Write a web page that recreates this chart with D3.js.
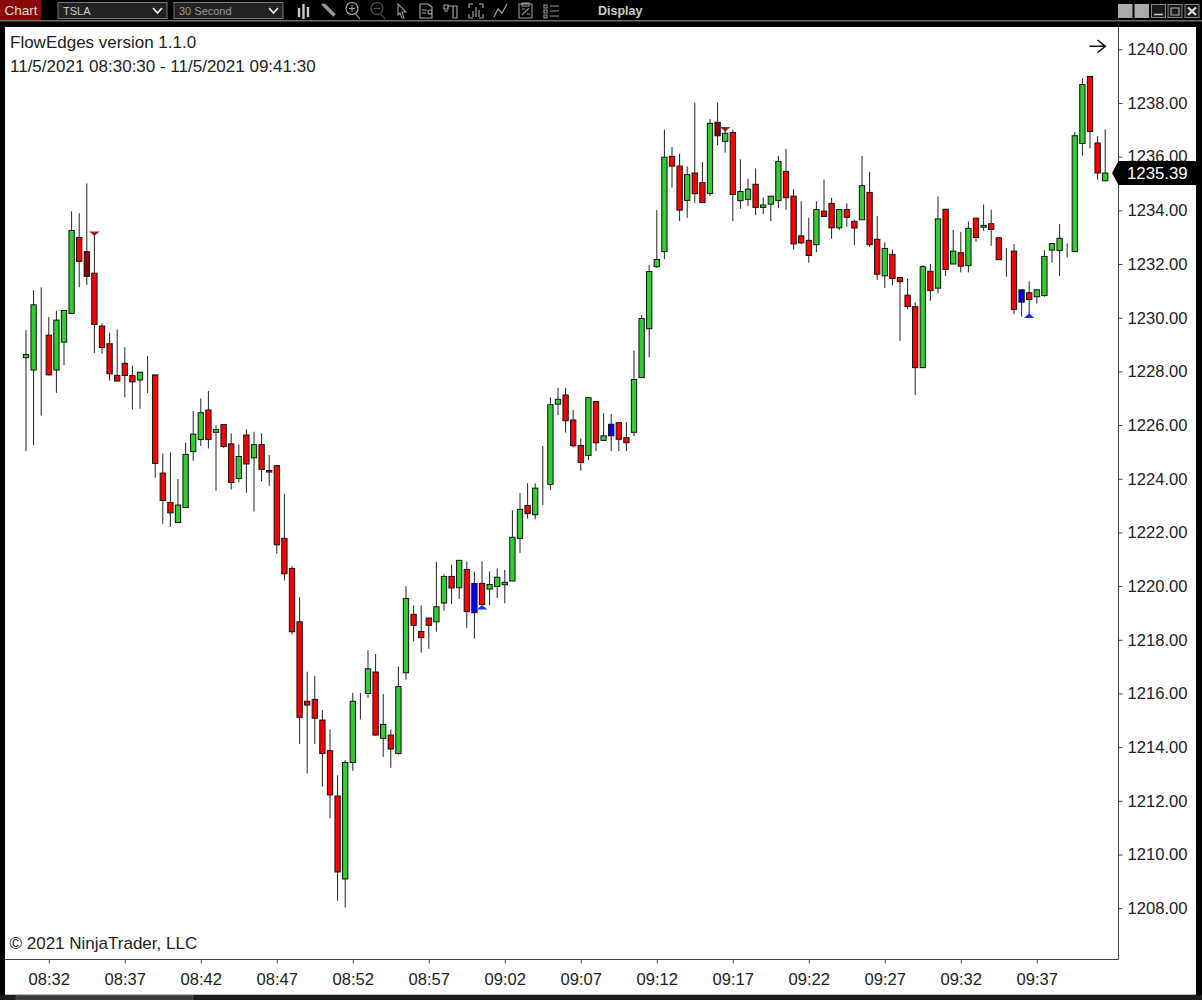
<!DOCTYPE html>
<html>
<head>
<meta charset="utf-8">
<title>TSLA 30 Second</title>
<script src="https://cdn.jsdelivr.net/npm/d3@7"></script>
<style>
  html, body { margin: 0; padding: 0; background: #000; }
  svg { display: block; font-family: "Liberation Sans", Arial, sans-serif; }
</style>
</head>
<body>
<div id="chart"></div>
<script>
// one entry per 30 second bar, 08:30:30 -> 09:41:30
const opens = [1228.51,1228.05,1231.03,1229.35,1228.05,1229.09,1230.16,1232.99,1232.46,1231.66,
  1229.69,1229.03,1227.85,1228.30,1227.84,1227.68,1227.79,1227.87,1224.21,1223.12,
  1222.37,1222.93,1225.01,1225.46,1226.56,1225.73,1226.02,1225.30,1224.01,1225.63,
  1224.78,1225.27,1224.31,1224.49,1221.78,1220.66,1218.67,1215.71,1215.78,1215.01,
  1213.87,1212.18,1209.09,1213.43,1215.83,1216.00,1216.80,1214.33,1214.45,1213.76,
  1216.77,1218.95,1218.31,1218.81,1218.67,1219.37,1220.36,1219.94,1220.62,1219.01,
  1220.10,1219.89,1219.99,1220.05,1220.19,1221.78,1223.00,1222.66,1223.83,1223.79,
  1226.78,1227.12,1226.19,1225.24,1224.87,1226.88,1225.43,1225.60,1226.09,1225.53,
  1225.73,1227.77,1229.59,1231.90,1232.46,1236.01,1235.65,1234.37,1235.39,1235.03,
  1234.63,1237.28,1236.57,1236.90,1234.36,1234.41,1234.97,1234.11,1234.23,1234.37,
  1235.45,1234.53,1233.05,1232.88,1232.72,1233.97,1234.26,1233.35,1234.03,1233.59,
  1233.65,1234.67,1232.92,1231.56,1232.36,1231.50,1230.84,1230.41,1228.14,1231.73,
  1231.10,1234.04,1232.00,1232.42,1231.94,1233.71,1233.37,1233.50,1232.98,1232.35,
  1232.48,1230.58,1230.93,1230.78,1230.83,1232.52,1232.50,1232.57,1232.46,1236.49,
  1238.99,1236.51,1235.10];
const highs = [1229.54,1231.03,1231.13,1230.02,1230.26,1230.27,1233.96,1233.89,1235.00,1233.14,
  1229.79,1229.44,1229.56,1228.90,1228.21,1227.97,1228.57,1227.87,1224.94,1224.98,
  1223.99,1225.35,1226.53,1226.99,1227.27,1226.00,1226.02,1225.69,1225.28,1225.84,
  1225.75,1225.69,1224.88,1224.49,1223.43,1220.74,1219.58,1216.81,1216.65,1215.38,
  1214.66,1212.95,1213.52,1216.02,1216.02,1217.61,1217.47,1215.98,1214.66,1217.01,
  1220.00,1219.28,1219.28,1218.81,1220.90,1220.44,1220.80,1220.96,1220.92,1220.54,
  1220.92,1220.54,1220.66,1220.60,1222.83,1223.47,1223.83,1223.83,1225.22,1227.03,
  1227.39,1227.39,1226.56,1225.50,1227.02,1226.88,1226.44,1226.41,1226.09,1226.11,
  1228.78,1230.10,1231.97,1234.01,1237.01,1236.36,1236.12,1235.64,1238.01,1235.80,
  1237.40,1238.01,1237.05,1237.01,1235.90,1235.18,1235.56,1234.48,1234.53,1236.03,
  1236.29,1234.79,1234.34,1233.72,1234.34,1235.15,1234.47,1234.03,1234.26,1233.66,
  1236.03,1235.44,1233.79,1232.80,1232.54,1231.50,1231.46,1230.57,1231.96,1232.00,
  1234.52,1234.04,1233.27,1233.19,1233.59,1233.71,1234.22,1234.02,1232.98,1232.60,
  1232.74,1231.04,1231.35,1231.04,1232.52,1232.79,1233.49,1232.77,1236.92,1238.92,
  1238.99,1236.76,1237.02];
const lows = [1225.03,1225.25,1226.35,1227.85,1227.20,1228.23,1230.16,1231.13,1231.22,1228.69,
  1228.66,1227.66,1227.64,1227.04,1226.58,1226.61,1227.20,1224.04,1222.32,1222.21,
  1222.37,1222.93,1224.67,1225.22,1225.13,1223.55,1225.15,1223.60,1223.86,1223.48,
  1222.78,1223.91,1223.74,1221.21,1220.21,1218.20,1214.12,1213.02,1214.12,1212.53,
  1211.35,1208.28,1208.02,1213.12,1215.03,1215.83,1214.43,1213.64,1213.23,1213.73,
  1216.52,1217.94,1217.52,1217.67,1218.30,1219.08,1219.33,1219.52,1218.44,1218.04,
  1219.31,1219.28,1219.56,1219.36,1220.19,1221.24,1222.52,1222.49,1223.02,1223.58,
  1226.37,1225.72,1225.17,1224.30,1224.70,1225.03,1225.43,1225.03,1225.03,1225.03,
  1225.59,1227.77,1228.52,1231.86,1232.18,1234.85,1233.60,1233.72,1234.28,1234.29,
  1234.53,1236.43,1236.15,1233.60,1234.06,1234.16,1233.82,1233.86,1233.60,1234.08,
  1234.02,1232.54,1232.74,1232.05,1232.44,1233.77,1232.94,1233.26,1233.39,1232.70,
  1233.65,1232.64,1231.41,1231.11,1231.21,1229.14,1230.31,1227.12,1228.14,1230.63,
  1230.91,1231.56,1232.00,1231.69,1231.69,1232.83,1233.24,1232.68,1232.16,1231.53,
  1230.14,1230.04,1230.04,1230.53,1230.78,1232.05,1231.56,1232.25,1232.46,1236.04,
  1236.31,1235.14,1235.10];
const closes = [1228.63,1230.48,1231.03,1227.87,1229.91,1230.27,1233.25,1232.10,1231.54,1229.75,
  1228.89,1227.91,1227.64,1227.85,1227.61,1227.97,1227.79,1224.57,1223.19,1222.73,
  1223.02,1224.91,1225.66,1226.46,1225.46,1225.83,1225.20,1223.86,1224.83,1224.55,
  1225.27,1224.35,1224.25,1221.54,1220.46,1218.30,1215.11,1215.57,1215.08,1213.76,
  1212.22,1209.35,1213.43,1215.71,1215.83,1216.92,1214.45,1214.85,1213.93,1216.26,
  1219.54,1218.54,1218.08,1218.54,1219.23,1220.36,1219.93,1220.96,1219.05,1220.10,
  1219.31,1220.06,1220.33,1220.14,1221.82,1222.86,1222.70,1223.65,1223.83,1226.76,
  1226.96,1226.16,1225.23,1224.61,1227.02,1225.34,1225.60,1226.03,1225.47,1225.34,
  1227.70,1229.97,1231.72,1232.17,1235.98,1235.65,1234.01,1235.33,1234.62,1234.29,
  1237.24,1236.78,1236.87,1234.59,1234.70,1234.79,1234.11,1234.20,1234.53,1235.82,
  1234.47,1232.75,1232.79,1232.32,1234.03,1233.77,1233.35,1234.03,1233.74,1233.34,
  1234.92,1232.72,1231.62,1232.58,1231.46,1231.34,1230.42,1228.14,1231.90,1231.01,
  1233.68,1231.80,1232.48,1231.92,1233.33,1232.99,1233.44,1233.29,1232.16,1232.35,
  1230.31,1231.04,1230.68,1231.04,1232.28,1232.76,1232.96,1232.57,1236.78,1238.69,
  1236.94,1235.39,1235.39];

// bars the indicator painted a different colour
const darkBars = [8, 91];
const blueBars = [59, 77, 131];

// indicator arrows, price is where the tip sits
const sellBars = [9, 92];
const sellPrices = [1233.04, 1236.93];
const buyBars = [60, 132];
const buyPrices = [1219.30, 1230.16];

const priceTicks = [1208,1210,1212,1214,1216,1218,1220,1222,1224,1226,1228,1230,1232,1234,1236,1238,1240];
const timeLabels = ["08:32","08:37","08:42","08:47","08:52","08:57","09:02","09:07","09:12","09:17","09:22","09:27","09:32","09:37"];
const lastPrice = 1235.39;
const titleLines = ["FlowEdges version 1.1.0", "11/5/2021 08:30:30 - 11/5/2021 09:41:30"];

const width = 1202, height = 1000;
const panel = { left: 5, top: 27, right: 1196, bottom: 994 };
const plotRight = 1118.5, plotBottom = 959.5;

const svg = d3.select("#chart").append("svg").attr("width", width).attr("height", height);

// window frame
svg.append("rect").attr("width", width).attr("height", height).attr("fill", "#000");
svg.append("rect").attr("x", panel.left).attr("y", panel.top)
  .attr("width", panel.right - panel.left).attr("height", panel.bottom - panel.top).attr("fill", "#fff");
svg.append("rect").attr("x", 0).attr("y", 20).attr("width", width).attr("height", 1.5).attr("fill", "#6e6e6e");

// scrollbar along the bottom
svg.append("rect").attr("x", panel.left).attr("y", 994).attr("width", panel.right - panel.left).attr("height", 1).attr("fill", "#bbb");
svg.append("rect").attr("x", 0).attr("y", 995).attr("width", width).attr("height", 5).attr("fill", "#1c1c1c");
svg.append("rect").attr("x", 16).attr("y", 995.5).attr("width", 177).attr("height", 5).attr("fill", "#3a3a3a").attr("stroke", "#666").attr("stroke-width", 0.5);

// scales
const x = d3.scaleLinear().domain([0, closes.length - 1]).range([26, 1105.2]);
const y = d3.scaleLinear().domain([1208, 1240]).range([908.2, 49.3]);

// time labels sit on bar positions, first bar is 08:30:30
const parseTime = d3.timeParse("%H:%M");
const startTime = d3.timeParse("%H:%M:%S")("08:30:30");
const labelIndex = timeLabels.map(d => (parseTime(d) - startTime) / 30000);

// axes
const yAxis = d3.axisRight(y).tickValues(priceTicks).tickFormat(d3.format(".2f")).tickSize(4).tickPadding(5);
const xAxis = d3.axisBottom(x).tickValues(labelIndex).tickFormat((d, i) => timeLabels[i]).tickSize(4).tickPadding(10);

const yG = svg.append("g").attr("transform", `translate(${plotRight},0)`).call(yAxis);
const xG = svg.append("g").attr("transform", `translate(0,${plotBottom})`).call(xAxis);
[yG, xG].forEach(g => {
  g.select(".domain").remove();
  g.selectAll("text").attr("fill", "#222").attr("font-size", "16.6px").attr("font-family", "'Liberation Sans', Arial, sans-serif");
  g.selectAll("line").attr("stroke", "#444");
});
svg.append("line").attr("x1", plotRight).attr("x2", plotRight).attr("y1", panel.top).attr("y2", plotBottom).attr("stroke", "#444");
svg.append("line").attr("x1", panel.left).attr("x2", plotRight).attr("y1", plotBottom).attr("y2", plotBottom).attr("stroke", "#444");

// candles
const barIndex = d3.range(closes.length);
const barColor = i => {
  if (blueBars.includes(i)) return "#0000ff";
  if (darkBars.includes(i)) return "#8b0000";
  return closes[i] >= opens[i] ? "#32cd32" : "#ff0000";
};
const bodyWidth = 5.3;

const candles = svg.append("g").selectAll(".candle").data(barIndex).enter().append("g").attr("class", "candle");
candles.append("line")
  .attr("x1", i => x(i)).attr("x2", i => x(i))
  .attr("y1", i => y(highs[i])).attr("y2", i => y(lows[i]))
  .attr("stroke", "#222").attr("stroke-width", 1);
candles.append("rect")
  .attr("x", i => x(i) - bodyWidth / 2)
  .attr("width", bodyWidth)
  .attr("y", i => y(Math.max(opens[i], closes[i])))
  .attr("height", i => Math.abs(y(opens[i]) - y(closes[i])))
  .attr("fill", barColor)
  .attr("stroke", "#111").attr("stroke-width", 1);

// indicator arrows
const arrowPath = (tipX, tipY, dir) => `M${tipX},${tipY}L${tipX - 5.3},${tipY + dir * 4.6}L${tipX + 5.3},${tipY + dir * 4.6}Z`;
svg.append("g").selectAll("path").data(sellBars).enter().append("path")
  .attr("d", (d, i) => arrowPath(x(d), y(sellPrices[i]), -1)).attr("fill", "#8b0000").attr("opacity", 0.85);
svg.append("g").selectAll("path").data(buyBars).enter().append("path")
  .attr("d", (d, i) => arrowPath(x(d), y(buyPrices[i]), 1)).attr("fill", "#0000ff").attr("opacity", 0.85);

// current price flag
const lastY = y(lastPrice);
svg.append("path")
  .attr("d", `M1112,${lastY}L${plotRight},${lastY - 12}L${panel.right},${lastY - 12}L${panel.right},${lastY + 12}L${plotRight},${lastY + 12}Z`)
  .attr("fill", "#000");
svg.append("text").attr("x", 1127).attr("y", lastY + 6.2).attr("fill", "#fff").attr("font-size", "16.8px").text(d3.format(".2f")(lastPrice));

// titles
svg.selectAll(".title").data(titleLines).enter().append("text").attr("class", "title")
  .attr("x", 10).attr("y", (d, i) => 48 + i * 23.5)
  .attr("fill", "#222").attr("font-size", "17px").text(d => d);
svg.append("text").attr("x", 9.5).attr("y", 949).attr("fill", "#222").attr("font-size", "17px").text("\u00a9 2021 NinjaTrader, LLC");

// scroll arrow top right of the plot
svg.append("path").attr("d", "M1089.5,46.3H1105M1097.5,40L1105.4,46.3L1097.5,52.6")
  .attr("fill", "none").attr("stroke", "#111").attr("stroke-width", 1.5);

// toolbar
const bar = svg.append("g");
bar.append("rect").attr("width", 41).attr("height", 20).attr("fill", "#8a0a0a");
bar.append("text").attr("x", 4.5).attr("y", 15).attr("fill", "#ddd").attr("font-size", "13.5px").text("Chart");

[[58, 109, "TSLA", "#ccc"], [174, 109, "30 Second", "#999"]].forEach(d => {
  bar.append("rect").attr("x", d[0]).attr("y", 2.5).attr("width", d[1]).attr("height", 16)
    .attr("fill", "#222").attr("stroke", "#777");
  bar.append("text").attr("x", d[0] + 5).attr("y", 14.5).attr("fill", d[3]).attr("font-size", "11px").text(d[2]);
  bar.append("path").attr("d", `M${d[0] + d[1] - 14},8L${d[0] + d[1] - 9.5},13L${d[0] + d[1] - 5},8`)
    .attr("fill", "none").attr("stroke", "#eee").attr("stroke-width", 1.8);
});

// toolbar icons, drawn around their own origin: x, path, colour, stroke width
const icons = [
  [297, "M2,7V16M6.5,3V18M11,6V16", "#ccc", 2.4],
  [320, "M2,3L14,15M4,3L15,14", "#999", 2],
  [344, "M11,12L16,18M2,7.5A6,6 0 1 0 14,7.5A6,6 0 1 0 2,7.5M5,7.5H11M8,4.5V10.5", "#aaa", 1.1],
  [369, "M11,12L16,18M2,7.5A6,6 0 1 0 14,7.5A6,6 0 1 0 2,7.5M5,7.5H11", "#555", 1.1],
  [396, "M2,3L10,11H6L8,17H6L4,12L2,14Z", "#999", 1.1],
  [419, "M1,3H9L13,6V17H1ZM3,9H8M3,12H7M9,11A2,2 0 1 0 13,11A2,2 0 1 0 9,11", "#aaa", 1.1],
  [443, "M1,4H5V8H1ZM5,5H14V17H10V5M1,10H5", "#aaa", 1.1],
  [468, "M1,7V3H5M11,3H15V7M1,13V17H5M15,13V17H11M5,16V10M8,16V6M11,16V9", "#aaa", 1.1],
  [493, "M1,16L5,8L9,12L14,3", "#aaa", 1.1],
  [518, "M1,3H14V17H1ZM4,2H11V5H4ZM4,14L11,7M4,8H7M9,13H12", "#999", 1.1],
  [543, "M1,4H4V7H1ZM1,9H4V12H1ZM1,14H4V17H1ZM7,5H16M7,10H16M7,15H16", "#999", 1.1]
];
icons.forEach(d => {
  bar.append("path").attr("transform", `translate(${d[0]},1)`).attr("d", d[1])
    .attr("fill", "none").attr("stroke", d[2]).attr("stroke-width", d[3]);
});
bar.append("text").attr("x", 598).attr("y", 15).attr("fill", "#ccc").attr("font-size", "12.5px").attr("font-weight", "bold").text("Display");

// window buttons
[1118, 1134.5].forEach(bx => bar.append("rect").attr("x", bx).attr("y", 4).attr("width", 14.5).attr("height", 14).attr("fill", "#ababab"));
[1151.5, 1168, 1185].forEach(bx => bar.append("rect").attr("x", bx).attr("y", 4.5).attr("width", 14).attr("height", 13).attr("fill", "#1a1a1a").attr("stroke", "#888"));
bar.append("path").attr("d", "M1154,14.5H1163").attr("stroke", "#ccc").attr("stroke-width", 1.5);
bar.append("path").attr("d", "M1171,8H1179V15H1171Z").attr("fill", "none").attr("stroke", "#aaa").attr("stroke-width", 1.2);
bar.append("path").attr("d", "M1188,7.5L1196,15M1196,7.5L1188,15").attr("stroke", "#ddd").attr("stroke-width", 2.2);
</script>
</body>
</html>
